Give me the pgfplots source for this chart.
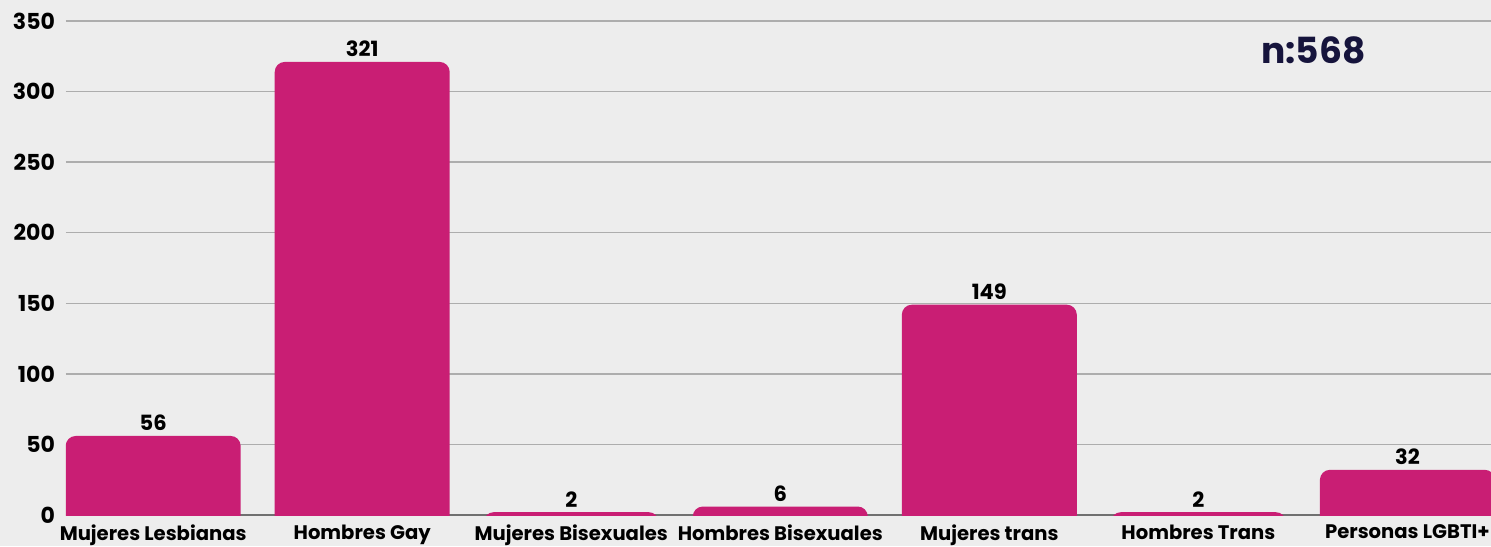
\documentclass[border=0pt]{standalone}
\usepackage{pgfplots}
\usepackage{pgfplotstable}
\pgfplotsset{compat=1.18}
\usepackage{fontspec}
\setmainfont{Poppins}[UprightFont=*-Regular,BoldFont=*-Bold]
\definecolor{bgc}{HTML}{EDEDED}
\definecolor{barc}{HTML}{C91E74}
\definecolor{gridc}{HTML}{ADADAD}
\definecolor{basec}{HTML}{707070}
\definecolor{navy}{HTML}{16143C}
\pgfplotstableread{
x v
0 56
1 321
2 2
3 6
4 149
5 2
6 32
}\datos
\pgfplotsset{
  frame/.style={
    at={(33pt,15.5pt)}, anchor=south west,
    scale only axis,
    width=712.5pt, height=247pt,
    xmin=-0.417, xmax=6.40,
    ymin=0, ymax=350,
    /pgf/number format/assume math mode=true,
  },
}
\begin{document}
\begin{tikzpicture}
\fill[bgc] (0,0) rectangle (745.5pt,273pt);
\path[use as bounding box] (0,0) rectangle (745.5pt,273pt);
\begin{axis}[
    frame,
    ytick={0,50,...,350},
    extra y ticks={0}, extra y tick labels={},
    extra y tick style={grid style={basec, line width=0.8pt}},
    xtick=data,
    xticklabels={Mujeres Lesbianas, Hombres Gay, Mujeres Bisexuales, Hombres Bisexuales, Mujeres trans, Hombres Trans, Personas LGBTI+},
    axis line style={draw=none},
    major tick length=0pt,
    ymajorgrids,
    grid style={gridc, line width=0.75pt},
    yticklabel style={font=\fontsize{11}{13}\selectfont\bfseries, xshift=-2pt},
    xticklabel style={font=\fontsize{9.8}{12}\selectfont\bfseries, yshift=-1.5pt},
    ybar stacked, stack negative=on previous, bar width=0.837,
    clip=true,
]
% invisible base below zero so that only the top corners are rounded
\addplot[draw=none, fill=none] table[x=x, y expr=-10] {\datos};
\addplot[fill=barc, draw=none, rounded corners=5pt]
    table[x=x, y expr=\thisrow{v}+10] {\datos};
\node[font=\fontsize{18}{22}\selectfont\bfseries, text=navy] at (axis cs:5.55,329.4) {n:568};
\end{axis}
% value labels
\begin{axis}[
    frame, hide axis,
    ybar, bar width=0.837,
    nodes near coords, point meta=explicit,
    every node near coord/.append style={font=\fontsize{10.5}{12}\selectfont\bfseries, black, yshift=-1pt},
]
\addplot[draw=none, fill=none] table[x=x, y=v, meta=v] {\datos};
\end{axis}
\end{tikzpicture}
\end{document}
